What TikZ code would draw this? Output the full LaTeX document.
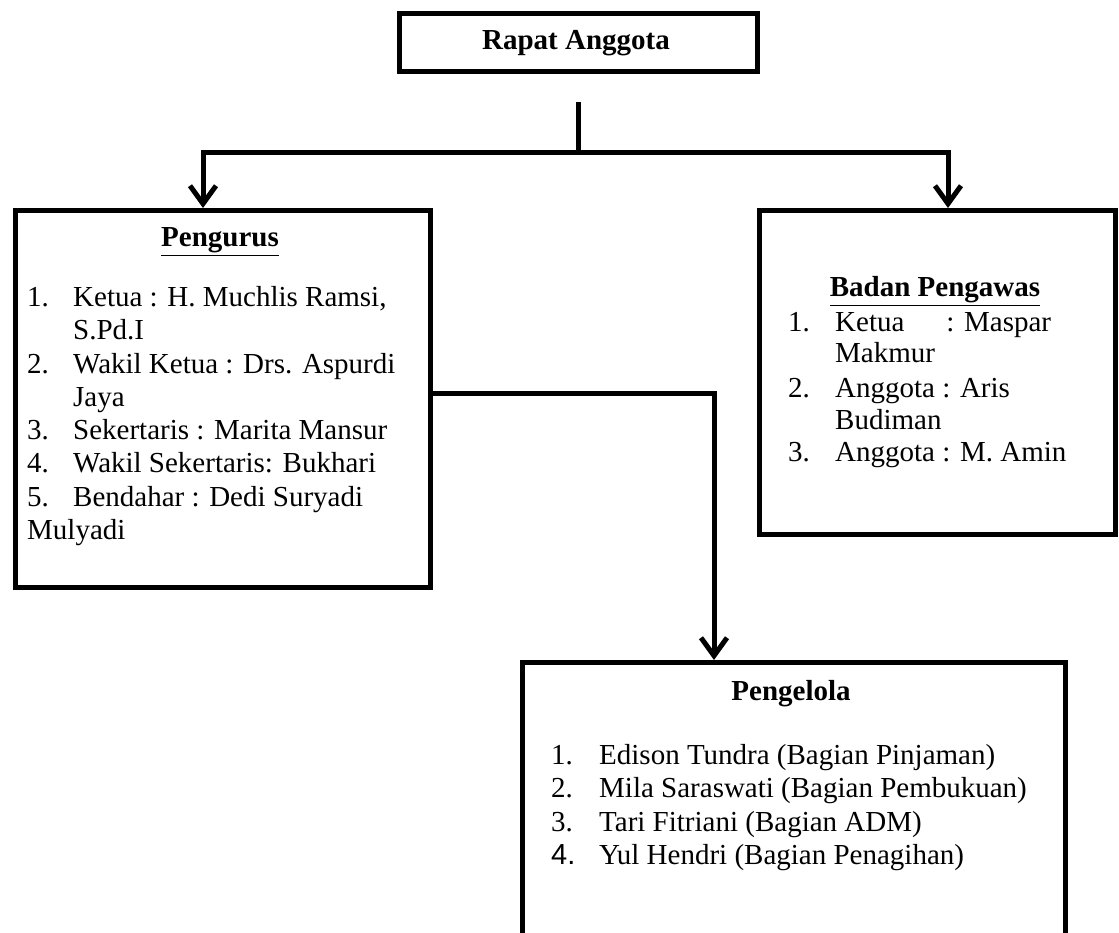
\documentclass[tikz,border=0pt]{standalone}
\usepackage{fontspec}
\setmainfont{Liberation Serif}
\newfontfamily\arialf{Liberation Sans}
\usetikzlibrary{arrows.meta}
\begin{document}
\begin{tikzpicture}[x=1pt,y=-1pt,
  box/.style={draw, line width=5pt, inner sep=0pt, anchor=north west},
  conn/.style={line width=5pt, line join=miter},
  arr/.style={conn, -{Straight Barb[length=18pt,width=26pt,line width=5pt]}},
  txt/.style={anchor=base west, inner sep=0pt, font=\fontsize{29}{33.5}\selectfont},
  ttl/.style={anchor=base, inner sep=0pt, font=\fontsize{29}{33.5}\selectfont\bfseries}
]
\clip (0,0) rectangle (1119,933);
\fill[white] (0,0) rectangle (1119,933);

% boxes
\node[box, minimum width=358pt, minimum height=58pt] (rapat) at (397,11) {};
\node[box, minimum width=415pt, minimum height=377pt] (pengurus) at (13,208) {};
\node[box, minimum width=356pt, minimum height=324pt] (badan) at (757,208) {};
\node[box, minimum width=543pt, minimum height=330pt] (pengelola) at (520,660) {};

% texts
\node[ttl] (rapatT) at (576,50) {Rapat Anggota};

\node[ttl] (pengurusT) at (220,247) {\underline{Pengurus}};
\node[txt] (pn1) at (27,306) {1.};
\node[txt] (pt1) at (73,306) {Ketua : H. Muchlis Ramsi,};
\node[txt] (pt1b) at (73,339) {S.Pd.I};
\node[txt] (pn2) at (27,373) {2.};
\node[txt] (pt2) at (73,373) {Wakil Ketua : Drs. Aspurdi};
\node[txt] (pt2b) at (73,406) {Jaya};
\node[txt] (pn3) at (27,439) {3.};
\node[txt] (pt3) at (73,439) {Sekertaris : Marita Mansur};
\node[txt] (pn4) at (27,472) {4.};
\node[txt] (pt4) at (73,472) {Wakil Sekertaris: Bukhari};
\node[txt] (pn5) at (27,506) {5.};
\node[txt] (pt5) at (73,506) {Bendahar : Dedi Suryadi};
\node[txt] (pt5b) at (27,539) {Mulyadi};

\node[ttl] (badanT) at (935,297) {\underline{Badan Pengawas}};
\node[txt] (bn1) at (788,331) {1.};
\node[txt] (bt1) at (835,331) {Ketua\hspace*{42pt}: Maspar};
\node[txt] (bt1b) at (835,362) {Makmur};
\node[txt] (bn2) at (788,397) {2.};
\node[txt] (bt2) at (835,397) {Anggota : Aris};
\node[txt] (bt2b) at (835,429) {Budiman};
\node[txt] (bn3) at (788,461) {3.};
\node[txt] (bt3) at (835,461) {Anggota : M. Amin};

\node[ttl] (pengelolaT) at (791,700) {Pengelola};
\node[txt] (gn1) at (551,764) {1.};
\node[txt] (gt1) at (599,764) {Edison Tundra (Bagian Pinjaman)};
\node[txt] (gn2) at (551,797) {2.};
\node[txt] (gt2) at (599,797) {Mila Saraswati (Bagian Pembukuan)};
\node[txt] (gn3) at (551,831) {3.};
\node[txt] (gt3) at (599,831) {Tari Fitriani (Bagian ADM)};
\node[txt] (gn4) at (551,864) {\arialf 4.};
\node[txt] (gt4) at (599,864) {Yul Hendri (Bagian Penagihan)};

% connector points
\coordinate (stubtop) at (578,102);
\coordinate (junction) at (578,153);
\coordinate (pIn) at (203,208);
\coordinate (bIn) at (948,208);
\coordinate (pOut) at (428,393);
\coordinate (gIn) at (714,660);

\draw[conn] (stubtop) -- (junction);
\draw[arr] (junction) -| (pIn);
\draw[arr] (junction) -| (bIn);
\draw[arr] (pOut) -| (gIn);
\end{tikzpicture}
\end{document}
